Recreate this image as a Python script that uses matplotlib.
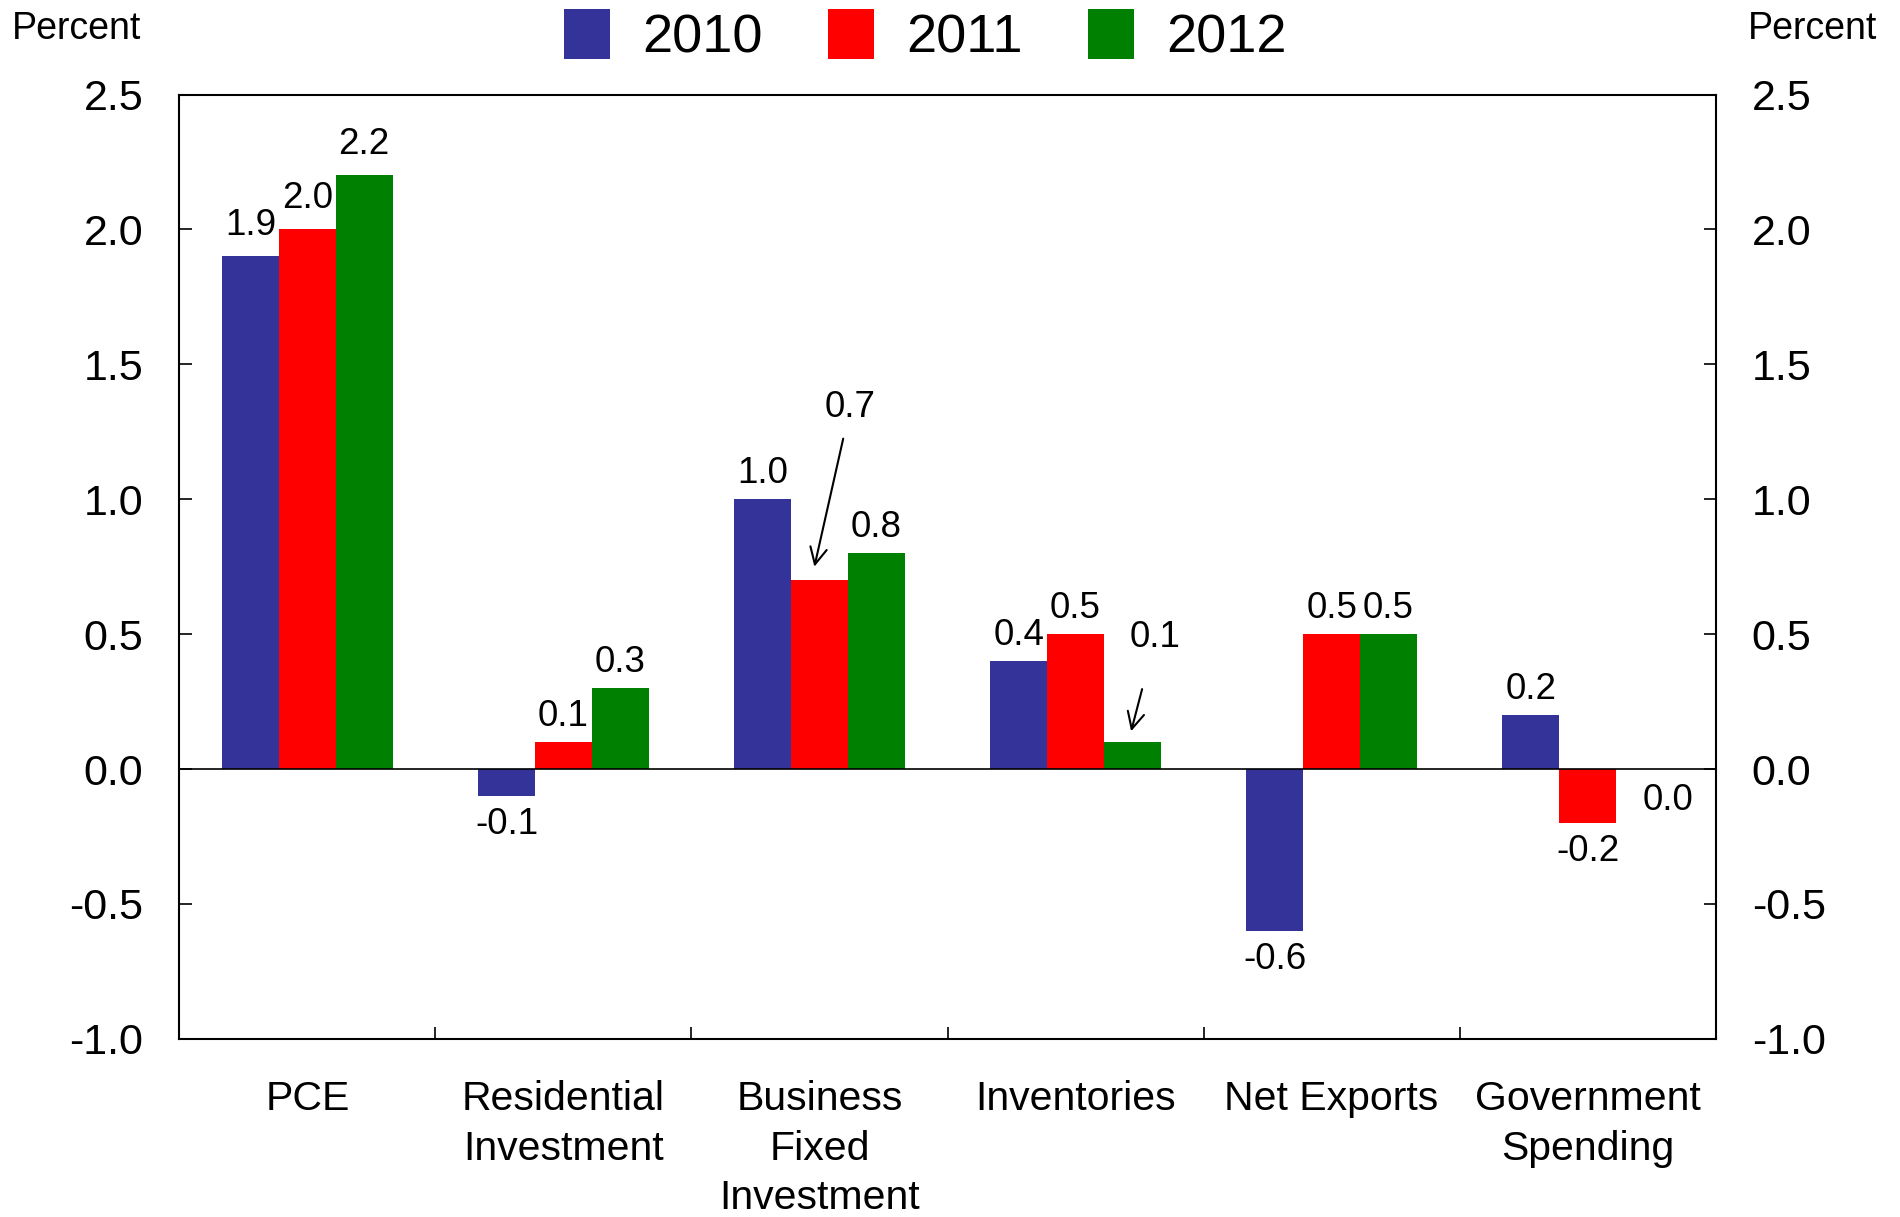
import matplotlib
matplotlib.use("Agg")
import matplotlib.pyplot as plt
import numpy as np
from matplotlib.patches import Patch

plt.rcParams['font.family'] = ['Liberation Sans', 'DejaVu Sans']

categories = ["PCE", "Residential\nInvestment", "Business\nFixed\nInvestment",
              "Inventories", "Net Exports", "Government\nSpending"]
years = ["2010", "2011", "2012"]
v2010 = [1.9, -0.1, 1.0, 0.4, -0.6, 0.2]
v2011 = [2.0, 0.1, 0.7, 0.5, 0.5, -0.2]
v2012 = [2.2, 0.3, 0.8, 0.1, 0.5, 0.0]
colors = ["#333399", "#FF0000", "#008000"]
yticks = [-1.0, -0.5, 0.0, 0.5, 1.0, 1.5, 2.0, 2.5]

fig = plt.figure(figsize=(19, 12.17), dpi=100)
ax = fig.add_axes([0.0944, 0.1464, 0.8086, 0.7759])

x = np.arange(len(categories))
w = 0.222
series = [v2010, v2011, v2012]
for i, (vals, c) in enumerate(zip(series, colors)):
    ax.bar(x + (i - 1) * w, vals, width=w, color=c, edgecolor='none', zorder=2)

ax.axhline(0, color='black', lw=1.2, zorder=3)
ax.set_xlim(-0.5, len(categories) - 0.5)
ax.set_ylim(-1.0, 2.5)

fs_val = 26.5
for i, vals in enumerate(series):
    for j, v in enumerate(vals):
        xc = x[j] + (i - 1) * w
        if (i, j) == (1, 2):
            ax.annotate(f"{v:.1f}", xy=(xc - 0.02, v + 0.05), xytext=(xc + 0.12, v + 0.64),
                        ha='center', va='center', fontsize=fs_val,
                        arrowprops=dict(arrowstyle='->', color='black', lw=1.5,
                                        mutation_scale=30, shrinkA=8, shrinkB=0))
            continue
        if (i, j) == (2, 3):
            ax.annotate(f"{v:.1f}", xy=(xc - 0.005, v + 0.04), xytext=(xc + 0.09, v + 0.386),
                        ha='center', va='center', fontsize=fs_val,
                        arrowprops=dict(arrowstyle='->', color='black', lw=1.5,
                                        mutation_scale=30, shrinkA=23, shrinkB=0))
            continue
        if (i, j) == (2, 5):
            ax.annotate(f"{v:.1f}", xy=(xc + 0.09, v), xytext=(0, -10),
                        textcoords='offset points', ha='center', va='top', fontsize=fs_val)
            continue
        if v >= 0:
            off = 10 if j == 0 else 6
            ax.annotate(f"{v:.1f}", xy=(xc, v), xytext=(0, off), textcoords='offset points',
                        ha='center', va='bottom', fontsize=fs_val)
        else:
            ax.annotate(f"{v:.1f}", xy=(xc, v), xytext=(0, -8), textcoords='offset points',
                        ha='center', va='top', fontsize=fs_val)

for s in ax.spines.values():
    s.set_linewidth(1.5)
ax.set_yticks(yticks)
ax.set_yticklabels([f"{t:.1f}" for t in yticks])
ax.tick_params(axis='y', which='major', direction='in', length=9, width=1.2,
               labelsize=31, pad=26, left=True, right=True, labelleft=True, labelright=True)
ax.set_xticks(np.arange(0.5, len(categories) - 0.5, 1.0))
ax.set_xticklabels([])
ax.tick_params(axis='x', which='major', direction='in', length=9, width=1.2, top=False)
ax.set_xticks(x, minor=True)
ax.set_xticklabels(categories, minor=True, fontsize=29.5, linespacing=1.37)
ax.tick_params(axis='x', which='minor', length=0, pad=30)

fig.text(0.006, 0.976, "Percent", fontsize=27, ha='left', va='center')
fig.text(0.988, 0.976, "Percent", fontsize=27, ha='right', va='center')

handles = [Patch(facecolor=c, edgecolor='none') for c in colors]
fig.legend(handles, years, loc='center', bbox_to_anchor=(0.487, 0.970), ncol=3,
           frameon=False, fontsize=39, handlelength=0.85, handleheight=1.05,
           handletextpad=0.6, columnspacing=1.2, borderpad=0, borderaxespad=0)

fig.savefig("out.png", dpi=100)
